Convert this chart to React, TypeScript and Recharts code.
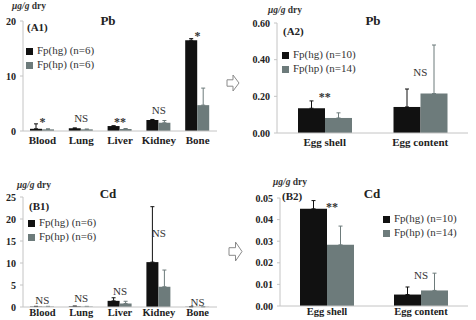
import React from 'react';
import { ComposedChart, Bar, Line, XAxis, YAxis, ErrorBar, Legend } from 'recharts';

const FONT = '"Liberation Serif", "Times New Roman", serif';
const HG = '#111111';
const HP = '#6d7b7b';
const AXIS = '#c4c4c4';

// categories
const organs = ['Blood', 'Lung', 'Liver', 'Kidney', 'Bone'];
const eggParts = ['Egg shell', 'Egg content'];

// Pb in organs (A1)
const pbOrganHg = [0.4, 0.5, 0.9, 2.0, 16.5];
const pbOrganHgErr = [0.9, 0.05, 0.05, 0.1, 0.3];
const pbOrganHp = [0.3, 0.3, 0.35, 1.5, 4.7];
const pbOrganHpErr = [0.1, 0.05, 0.1, 0.4, 3.1];
const pbOrganMark = ['*', 'NS', '**', 'NS', '*'];
const pbOrganMarkAt = [2.4, 2.4, 2.4, 3.8, 18];

// Pb in eggs (A2)
const pbEggHg = [0.135, 0.142];
const pbEggHgErr = [0.04, 0.098];
const pbEggHp = [0.082, 0.215];
const pbEggHpErr = [0.028, 0.265];
const pbEggMark = ['**', 'NS'];
const pbEggMarkAt = [0.22, 0.33];

// Cd in organs (B1)
const cdOrganHg = [0.1, 0.15, 1.4, 10.2, 0.05];
const cdOrganHgErr = [0.05, 0.05, 0.7, 12.6, 0.02];
const cdOrganHp = [0.1, 0.1, 0.8, 4.6, 0.05];
const cdOrganHpErr = [0.05, 0.05, 0.5, 3.8, 0.02];
const cdOrganMark = ['NS', 'NS', 'NS', 'NS', 'NS'];
const cdOrganMarkAt = [1.6, 2.1, 3.6, 16.8, 1.1];

// Cd in eggs (B2)
const cdEggHg = [0.045, 0.0053];
const cdEggHgErr = [0.0038, 0.0035];
const cdEggHp = [0.0283, 0.0072];
const cdEggHpErr = [0.0087, 0.008];
const cdEggMark = ['**', 'NS'];
const cdEggMarkAt = [0.0478, 0.0143];

const rows = (cats, hg, hgErr, hp, hpErr, mark, markAt) =>
  cats.map((name, i) => ({
    name,
    hg: hg[i],
    hgErr: [0, hgErr[i]],
    hp: hp[i],
    hpErr: [0, hpErr[i]],
    mark: mark[i],
    markAt: markAt[i],
  }));

const markRenderer = (shiftStars) => (p) => {
  if (p.cx == null || p.cy == null) return <g key={p.index} />;
  const star = p.payload.mark.startsWith('*');
  return (
    <text
      key={p.index}
      x={p.cx + (star ? shiftStars : 0)}
      y={p.cy}
      dy={star ? '0.7em' : '0.35em'}
      textAnchor="middle"
      fontFamily={FONT}
      fontSize={star ? 12 : 11}
      fontWeight={star ? 'bold' : 'normal'}
      style={{ fill: '#333' }}
    >
      {p.payload.mark}
    </text>
  );
};

function Panel({ left, top, width, height, margin, yWidth, xHeight, xTickSize, xFont, data, domain, ticks, fmt, barSize, n1, n2, legendPos, starShift }) {
  return (
    <div style={{ position: 'absolute', left, top }}>
      <ComposedChart width={width} height={height} data={data} margin={margin} barGap={0}>
        <XAxis
          dataKey="name"
          interval={0}
          height={xHeight}
          tickSize={xTickSize}
          tickMargin={2}
          tickLine={false}
          axisLine={{ stroke: AXIS }}
          tick={{ fontFamily: FONT, fontSize: xFont, fontWeight: 'bold', fill: '#222' }}
        />
        <YAxis
          width={yWidth}
          domain={domain}
          ticks={ticks}
          tickFormatter={fmt}
          tickSize={3}
          tickMargin={4}
          axisLine={{ stroke: AXIS }}
          tickLine={{ stroke: AXIS }}
          tick={{ fontFamily: FONT, fontSize: 10, fontWeight: 'bold', fill: '#222' }}
        />
        <Legend
          layout="vertical"
          verticalAlign="middle"
          align="center"
          iconType="square"
          iconSize={7}
          wrapperStyle={{ left: legendPos[0], top: legendPos[1], width: 'auto', fontFamily: FONT, fontSize: 11, lineHeight: '14px' }}
          formatter={(v) => <span style={{ color: '#333' }}>{v}</span>}
        />
        <Bar dataKey="hg" name={n1} fill={HG} barSize={barSize} isAnimationActive={false}>
          <ErrorBar dataKey="hgErr" direction="y" width={2} stroke={HG} strokeWidth={1} />
        </Bar>
        <Bar dataKey="hp" name={n2} fill={HP} barSize={barSize} isAnimationActive={false}>
          <ErrorBar dataKey="hpErr" direction="y" width={2} stroke={HP} strokeWidth={1} />
        </Bar>
        <Line dataKey="markAt" stroke="none" legendType="none" isAnimationActive={false} dot={markRenderer(starShift || 0)} activeDot={false} />
      </ComposedChart>
    </div>
  );
}

const Unit = ({ left, top }) => (
  <div style={{ position: 'absolute', left, top, fontFamily: FONT, fontSize: 9.5, fontWeight: 'bold', color: '#333', whiteSpace: 'nowrap', lineHeight: '12px' }}>
    <i>μg/g</i> dry
  </div>
);

const Label = ({ x, y, size, children, center }) => (
  <div
    style={{
      position: 'absolute',
      left: x,
      top: y,
      transform: center ? 'translate(-50%, -50%)' : 'translateY(-50%)',
      fontFamily: FONT,
      fontSize: size,
      fontWeight: 'bold',
      color: '#222',
      whiteSpace: 'nowrap',
      lineHeight: 1,
    }}
  >
    {children}
  </div>
);

const Arrow = ({ x, y, w, h }) => (
  <svg style={{ position: 'absolute', left: x, top: y }} width={w + 2} height={h + 2}>
    <polygon
      points={`1,${1 + h * 0.3} ${1 + w * 0.5},${1 + h * 0.3} ${1 + w * 0.5},1 ${1 + w},${1 + h / 2} ${1 + w * 0.5},${1 + h} ${1 + w * 0.5},${1 + h * 0.7} 1,${1 + h * 0.7}`}
      fill="#fff"
      stroke="#8a8a8a"
      strokeWidth={1}
    />
  </svg>
);

export default function App() {
  const f2 = (v) => v.toFixed(2);
  return (
    <div style={{ position: 'absolute', left: 0, top: 0, width: 476, height: 320, background: '#fff', overflow: 'hidden' }}>
      <Panel
        left={0} top={0} width={230} height={160}
        margin={{ top: 21, right: 13, left: 0, bottom: 9 }}
        yWidth={23} xHeight={20} xTickSize={3} xFont={11}
        data={rows(organs, pbOrganHg, pbOrganHgErr, pbOrganHp, pbOrganHpErr, pbOrganMark, pbOrganMarkAt)}
        domain={[0, 20]} ticks={[0, 10, 20]} barSize={12}
        n1="Fp(hg) (n=6)" n2="Fp(hp) (n=6)" legendPos={[26, 43]}
      />
      <Panel
        left={230} top={0} width={246} height={160}
        margin={{ top: 23, right: 8, left: 0, bottom: 7 }}
        yWidth={47} xHeight={20} xTickSize={3} xFont={11}
        data={rows(eggParts, pbEggHg, pbEggHgErr, pbEggHp, pbEggHpErr, pbEggMark, pbEggMarkAt)}
        domain={[0, 0.6]} ticks={[0, 0.2, 0.4, 0.6]} fmt={f2} barSize={27}
        n1="Fp(hg) (n=10)" n2="Fp(hp) (n=14)" legendPos={[52, 47]}
      />
      <Panel
        left={0} top={160} width={230} height={160}
        margin={{ top: 37, right: 13, left: 0, bottom: 0 }}
        yWidth={23} xHeight={13} xTickSize={0} xFont={10.5}
        data={rows(organs, cdOrganHg, cdOrganHgErr, cdOrganHp, cdOrganHpErr, cdOrganMark, cdOrganMarkAt)}
        domain={[0, 25]} ticks={[0, 5, 10, 15, 20, 25]} barSize={12}
        n1="Fp(hg) (n=6)" n2="Fp(hp) (n=6)" legendPos={[28, 55]}
      />
      <Panel
        left={230} top={160} width={246} height={160}
        margin={{ top: 38, right: 8, left: 0, bottom: 0 }}
        yWidth={50} xHeight={14} xTickSize={0} xFont={10.5}
        data={rows(eggParts, cdEggHg, cdEggHgErr, cdEggHp, cdEggHpErr, cdEggMark, cdEggMarkAt)}
        domain={[0, 0.05]} ticks={[0, 0.01, 0.02, 0.03, 0.04, 0.05]} fmt={f2} barSize={27}
        n1="Fp(hg) (n=10)" n2="Fp(hp) (n=14)" legendPos={[153, 51]} starShift={5}
      />

      <Unit left={12} top={0} />
      <Label x={27} y={27} size={11}>(A1)</Label>
      <Label x={108} y={20} size={13} center>Pb</Label>

      <Unit left={268} top={4} />
      <Label x={283} y={31} size={11}>(A2)</Label>
      <Label x={373} y={20} size={13} center>Pb</Label>

      <Unit left={17} top={179} />
      <Label x={29} y={206} size={11}>(B1)</Label>
      <Label x={108} y={193} size={13} center>Cd</Label>

      <Unit left={273} top={176} />
      <Label x={282} y={196} size={11}>(B2)</Label>
      <Label x={372} y={193} size={13} center>Cd</Label>

      <Arrow x={226} y={74} w={12} h={16} />
      <Arrow x={228} y={241} w={13} h={19} />
    </div>
  );
}
